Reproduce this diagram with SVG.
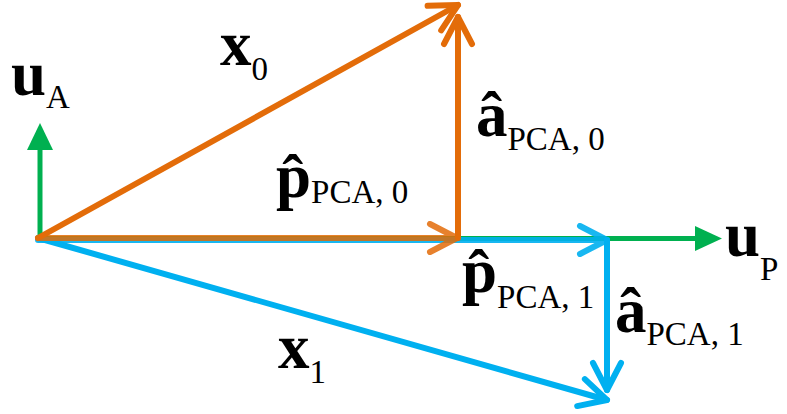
<svg xmlns="http://www.w3.org/2000/svg" width="787" height="414" viewBox="0 0 787 414">
<style>
.o{stroke:#E36C09;stroke-width:6;fill:none;stroke-linecap:round;stroke-linejoin:round}
.b{stroke:#00B0F0;stroke-width:6;fill:none;stroke-linecap:round;stroke-linejoin:round}
.g{stroke:#00B050;stroke-width:5;fill:none}
.gf{fill:#00B050}
.t{font-family:"Liberation Serif","Times New Roman",serif;font-weight:bold;font-size:63px;fill:#000}
.s{font-weight:normal;font-size:33px}
</style>
<defs>
<marker id="ao" markerUnits="userSpaceOnUse" markerWidth="40" markerHeight="40" viewBox="-35 -20 40 40" refX="0" refY="0" orient="auto" overflow="visible">
<path d="M-27,-14 L0,0 L-27,14" class="o"/>
</marker>
<marker id="ab" markerUnits="userSpaceOnUse" markerWidth="40" markerHeight="40" viewBox="-35 -20 40 40" refX="0" refY="0" orient="auto" overflow="visible">
<path d="M-27,-14 L0,0 L-27,14" class="b"/>
</marker>
</defs>
<g id="connectors">
<path class="g" d="M38,238.5 H697"/>
<polygon class="gf" points="695,226 722,238.5 695,251"/>
<path class="g" d="M40,238 V150"/>
<polygon class="gf" points="27,150 40,123 53,150"/>
<path class="b" d="M38,238 L607,400" marker-end="url(#ab)"/>
<path class="b" d="M607,240 V390" marker-end="url(#ab)"/>
<g opacity="0.9"><path class="b" d="M38,240 H607" marker-end="url(#ab)"/></g>
<g opacity="0.85"><path class="o" d="M38,238 H457" marker-end="url(#ao)"/></g>
<path class="o" d="M458,238 V17" marker-end="url(#ao)"/>
<path class="o" d="M38,238 L458,5" marker-end="url(#ao)"/>
</g>
<g id="label-x0"><text class="t" x="220" y="65">x<tspan class="s" dy="15">0</tspan></text></g>
<g id="label-uA"><text class="t" x="11" y="95">u<tspan class="s" dy="13">A</tspan></text></g>
<g id="label-p0"><text class="t" x="276" y="197">p̂<tspan class="s" dy="6">PCA, 0</tspan></text></g>
<g id="label-a0"><text class="t" x="476" y="136">â<tspan class="s" dy="14">PCA, 0</tspan></text></g>
<g id="label-p1"><text class="t" x="462" y="292">p̂<tspan class="s" dy="16">PCA, 1</tspan></text></g>
<g id="label-a1"><text class="t" x="615" y="332">â<tspan class="s" dy="13">PCA, 1</tspan></text></g>
<g id="label-uP"><text class="t" x="725" y="256">u<tspan class="s" dy="24">P</tspan></text></g>
<g id="label-x1"><text class="t" x="278" y="368">x<tspan class="s" dy="15">1</tspan></text></g>
</svg>
